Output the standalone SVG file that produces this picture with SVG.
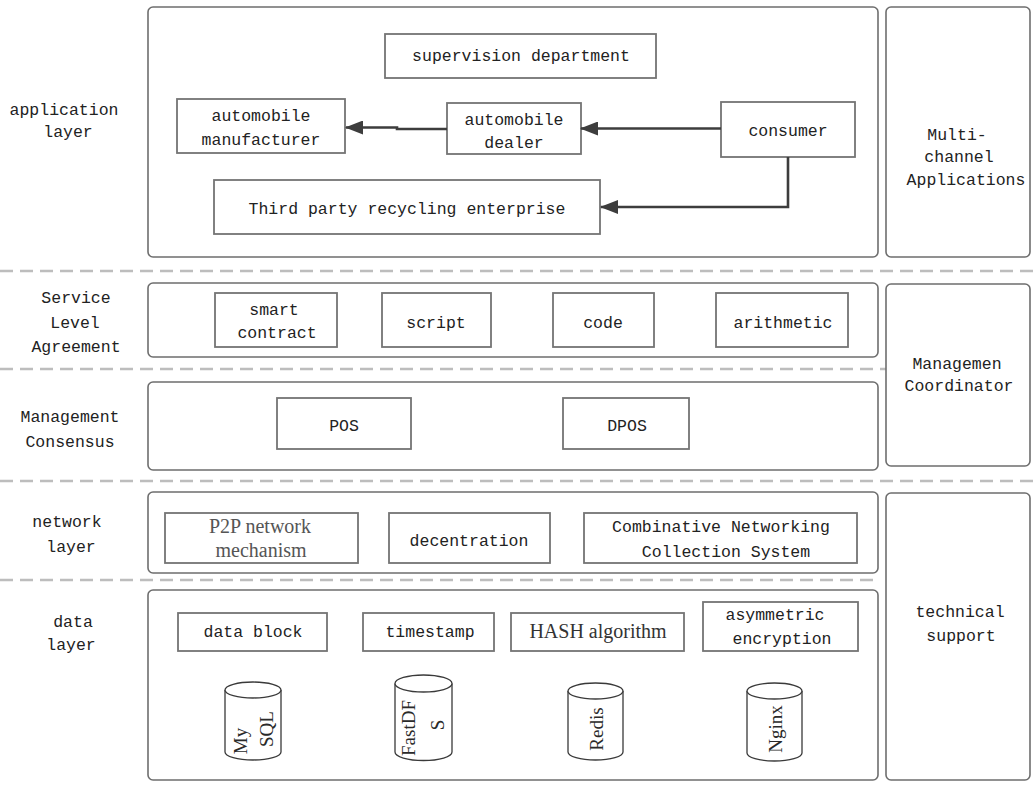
<svg xmlns="http://www.w3.org/2000/svg" width="1033" height="787" viewBox="0 0 1033 787">
  <style>
    .panel { fill: #ffffff; stroke: #6e6e6e; stroke-width: 1.6; }
    .box { fill: #ffffff; stroke: #747474; stroke-width: 1.8; }
    .sep { stroke: #bdbdbd; stroke-width: 2.5; stroke-dasharray: 13 7; fill: none; }
    .conn { stroke: #3d3d3d; stroke-width: 2.6; fill: none; }
    .cyl { fill: #ffffff; stroke: #3a3a3a; stroke-width: 1.3; }
    text { font-family: "Liberation Mono", "DejaVu Sans Mono", monospace; font-size: 16.5px; fill: #222222; text-anchor: middle; dominant-baseline: central; }
    .serif { font-family: "Liberation Serif", "DejaVu Serif", serif; font-size: 20px; fill: #555555; }
    .cyltxt { font-family: "Liberation Serif", "DejaVu Serif", serif; font-size: 19px; fill: #2a2a2a; }
  </style>
  <defs>
    <marker id="arrow" markerUnits="userSpaceOnUse" markerWidth="18" markerHeight="14" refX="17" refY="7" orient="auto">
      <path d="M0,0 L18,7 L0,14 z" fill="#3d3d3d"/>
    </marker>
  </defs>

  <rect width="1033" height="787" fill="#ffffff"/>

  <!-- layer separators -->
  <g id="separators">
    <line class="sep" x1="0" y1="271" x2="1033" y2="271"/>
    <line class="sep" x1="0" y1="369" x2="886" y2="369"/>
    <line class="sep" x1="0" y1="481" x2="1033" y2="481"/>
    <line class="sep" x1="0" y1="580" x2="878" y2="580"/>
  </g>

  <!-- layer names, left column -->
  <g id="layer-labels">
    <text x="64" y="110">application</text>
    <text x="68" y="132">layer</text>
    <text x="76" y="298">Service</text>
    <text x="75" y="323">Level</text>
    <text x="76" y="347">Agreement</text>
    <text x="70" y="417">Management</text>
    <text x="70" y="442">Consensus</text>
    <text x="67" y="522">network</text>
    <text x="71" y="547">layer</text>
    <text x="73" y="622">data</text>
    <text x="71" y="645">layer</text>
  </g>

  <!-- layer panels -->
  <g id="panel-application"><rect class="panel" x="148" y="7" width="730" height="250" rx="5"/></g>
  <g id="panel-sla"><rect class="panel" x="148" y="283" width="730" height="74" rx="5"/></g>
  <g id="panel-consensus"><rect class="panel" x="148" y="382" width="730" height="88" rx="5"/></g>
  <g id="panel-network"><rect class="panel" x="148" y="492" width="730" height="81" rx="5"/></g>
  <g id="panel-data"><rect class="panel" x="148" y="590" width="730" height="190" rx="5"/></g>

  <!-- right column -->
  <g id="multi-channel">
    <rect class="panel" x="886" y="7" width="144" height="250" rx="5"/>
    <text x="957" y="135">Multi-</text>
    <text x="959" y="157">channel</text>
    <text x="966" y="180">Applications</text>
  </g>
  <g id="management-coordinator">
    <rect class="panel" x="886" y="284" width="144" height="182" rx="5"/>
    <text x="957" y="364">Managemen</text>
    <text x="959" y="386">Coordinator</text>
  </g>
  <g id="technical-support">
    <rect class="panel" x="886" y="493" width="144" height="287" rx="5"/>
    <text x="960" y="612">technical</text>
    <text x="961" y="636">support</text>
  </g>

  <!-- application layer -->
  <g id="supervision">
    <rect class="box" x="385" y="34" width="271" height="44"/>
    <text x="521" y="56">supervision department</text>
  </g>
  <g id="manufacturer">
    <rect class="box" x="177" y="99" width="168" height="54"/>
    <text x="261" y="116">automobile</text>
    <text x="261" y="140">manufacturer</text>
  </g>
  <g id="dealer">
    <rect class="box" x="447" y="103" width="134" height="51"/>
    <text x="514" y="120">automobile</text>
    <text x="514" y="143">dealer</text>
  </g>
  <g id="consumer">
    <rect class="box" x="721" y="102" width="134" height="55"/>
    <text x="788" y="131">consumer</text>
  </g>
  <g id="recycling">
    <rect class="box" x="214" y="180" width="386" height="54"/>
    <text x="407" y="209">Third party recycling enterprise</text>
  </g>

  <!-- service level agreement -->
  <g id="smart-contract">
    <rect class="box" x="215" y="293" width="122" height="54"/>
    <text x="274" y="310">smart</text>
    <text x="277" y="333">contract</text>
  </g>
  <g id="script">
    <rect class="box" x="382" y="293" width="109" height="54"/>
    <text x="436" y="323">script</text>
  </g>
  <g id="code">
    <rect class="box" x="553" y="293" width="101" height="54"/>
    <text x="603" y="323">code</text>
  </g>
  <g id="arithmetic">
    <rect class="box" x="716" y="293" width="132" height="54"/>
    <text x="783" y="323">arithmetic</text>
  </g>

  <!-- consensus -->
  <g id="pos">
    <rect class="box" x="277" y="398" width="134" height="51"/>
    <text x="344" y="426">POS</text>
  </g>
  <g id="dpos">
    <rect class="box" x="563" y="398" width="126" height="51"/>
    <text x="627" y="426">DPOS</text>
  </g>

  <!-- network layer -->
  <g id="p2p">
    <rect class="box" x="165" y="513" width="193" height="50"/>
    <text class="serif" x="260" y="526">P2P network</text>
    <text class="serif" x="261" y="550">mechanism</text>
  </g>
  <g id="decentration">
    <rect class="box" x="389" y="513" width="161" height="50"/>
    <text x="469" y="541">decentration</text>
  </g>
  <g id="combinative">
    <rect class="box" x="584" y="513" width="273" height="50"/>
    <text x="721" y="527">Combinative Networking</text>
    <text x="726" y="552">Collection System</text>
  </g>

  <!-- data layer -->
  <g id="data-block">
    <rect class="box" x="178" y="613" width="149" height="38"/>
    <text x="253" y="632">data block</text>
  </g>
  <g id="timestamp">
    <rect class="box" x="363" y="613" width="131" height="38"/>
    <text x="430" y="632">timestamp</text>
  </g>
  <g id="hash">
    <rect class="box" x="511" y="613" width="173" height="38"/>
    <text class="serif" x="598" y="631" style="fill:#333333">HASH algorithm</text>
  </g>
  <g id="asymmetric">
    <rect class="box" x="703" y="602" width="155" height="49"/>
    <text x="775" y="615">asymmetric</text>
    <text x="782" y="639">encryption</text>
  </g>

  <!-- storage cylinders -->
  <g id="mysql">
    <path class="cyl" d="M225,690 V752 A28,8 0 0 0 281,752 V690"/>
    <ellipse class="cyl" cx="253" cy="690" rx="28" ry="8"/>
    <text class="cyltxt" transform="translate(240,741) rotate(-90)">My</text>
    <text class="cyltxt" transform="translate(266,729) rotate(-90)">SQL</text>
  </g>
  <g id="fastdfs">
    <path class="cyl" d="M395,683.5 V752 A28.5,8.5 0 0 0 452,752 V683.5"/>
    <ellipse class="cyl" cx="423.5" cy="683.5" rx="28.5" ry="8.5"/>
    <text class="cyltxt" transform="translate(408,728) rotate(-90)">FastDF</text>
    <text class="cyltxt" transform="translate(437,725) rotate(-90)">S</text>
  </g>
  <g id="redis">
    <path class="cyl" d="M568,691 V752 A27.5,8 0 0 0 623,752 V691"/>
    <ellipse class="cyl" cx="595.5" cy="691" rx="27.5" ry="8"/>
    <text class="cyltxt" transform="translate(596,729) rotate(-90)">Redis</text>
  </g>
  <g id="nginx">
    <path class="cyl" d="M747,691 V753 A27.5,8 0 0 0 802,753 V691"/>
    <ellipse class="cyl" cx="774.5" cy="691" rx="27.5" ry="8"/>
    <text class="cyltxt" transform="translate(775,729) rotate(-90)">Nginx</text>
  </g>

  <!-- flows between application-layer parties -->
  <g id="connectors">
    <path class="conn" d="M447,129 H397 V127.5 H346" marker-end="url(#arrow)"/>
    <path class="conn" d="M721,128.5 H581" marker-end="url(#arrow)"/>
    <path class="conn" d="M788,157 V207 H601" marker-end="url(#arrow)"/>
  </g>
</svg>
